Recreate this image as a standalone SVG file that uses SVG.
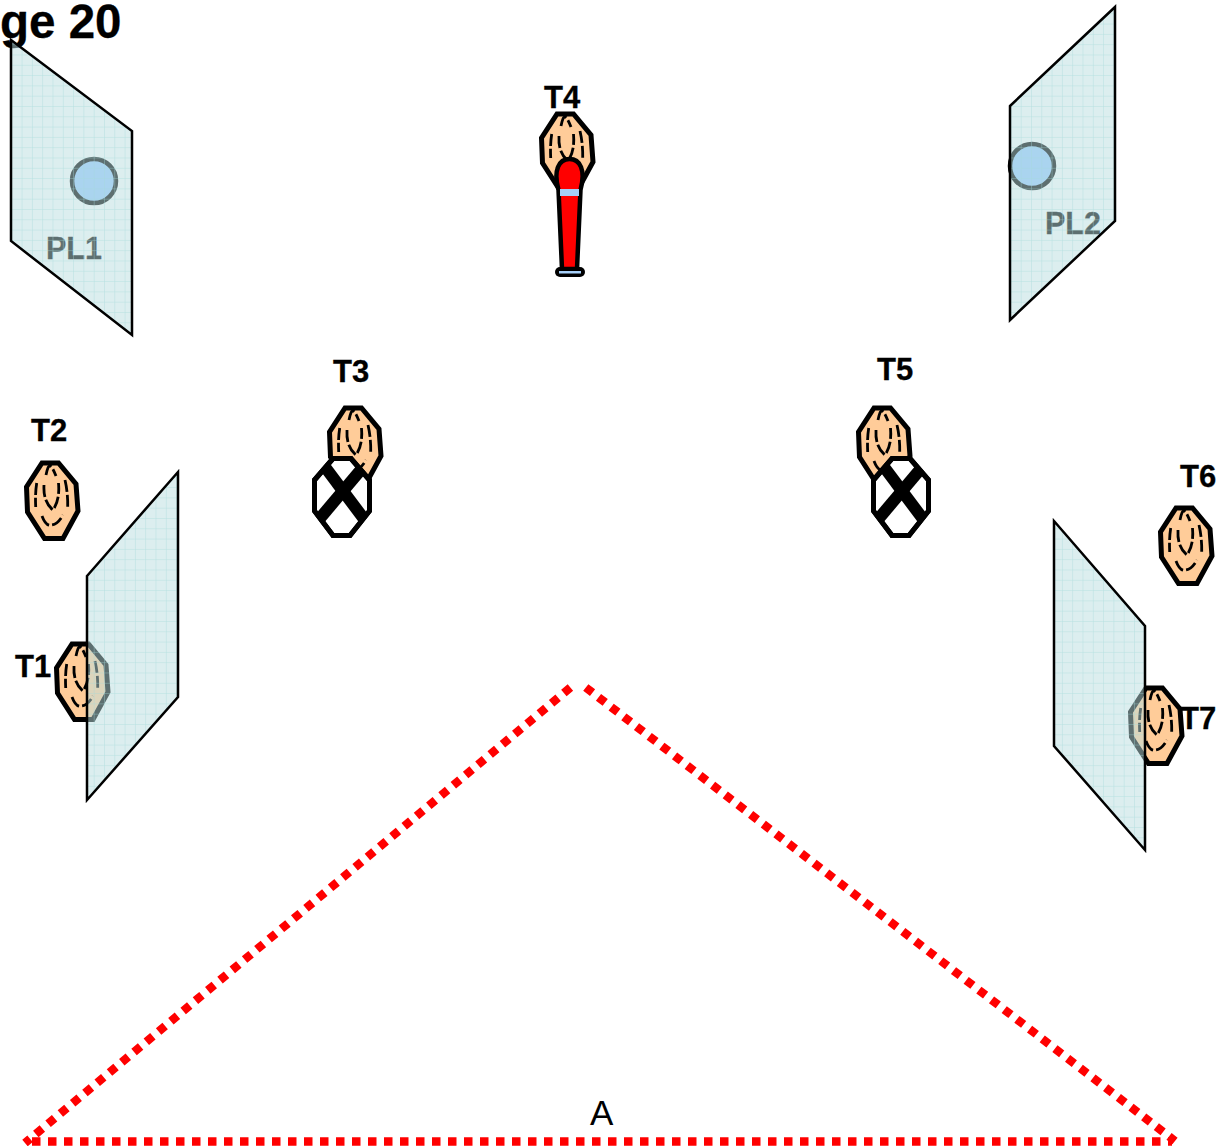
<svg xmlns="http://www.w3.org/2000/svg" width="1228" height="1146" viewBox="0 0 1228 1146">
  <style>
    text { font-family: "Liberation Sans", Arial, sans-serif; }
    .lbl { font-size: 31px; font-weight: bold; fill: #000; stroke: #000; stroke-width: 0.3; }
    .pl { font-size: 30.500px; font-weight: bold; fill: #000; stroke: #000; stroke-width: 0.3; }
    .shell { fill: #ffcc99; stroke: #000; stroke-width: 5; stroke-linejoin: miter; }
    .rib { fill: none; stroke: #000; stroke-width: 2.800; stroke-dasharray: 12 3; }
    .panel { fill: url(#grid); stroke: #000; stroke-width: 2.500; }
    .disc { fill: #9acaff; stroke: #000; stroke-width: 4.500; }
    .dots { fill: none; stroke: #ff0000; stroke-width: 8.500; stroke-dasharray: 8.500 7.500; }
    .xoct { fill: #fff; stroke: #000; stroke-width: 5; }
    .xline { fill: none; stroke: #000; stroke-width: 5; }
    .xbar { stroke: #000; stroke-width: 12; }
  </style>
  <defs>
    <pattern id="grid" patternUnits="userSpaceOnUse" x="1" y="3" width="10.3" height="10.3">
      <rect width="10.3" height="10.3" fill="#b9dde0" fill-opacity="0.5"/>
      <path d="M0 0H10.3M0 0V10.3" stroke="#a6dcdc" stroke-width="1" fill="none" stroke-opacity="0.7"/>
    </pattern>
    <clipPath id="xclip"><polygon points="21,2.500 39,2.500 57.500,24 57.500,55 38,79.500 21,79.500 2.500,55 2.500,24"/></clipPath>
    <g id="head">
      <polygon class="shell" points="17,3 33.500,3 51,24 53,51 38,78.500 19.500,78.500 2.500,52 1.500,27"/>
      <path class="rib" d="M21,15 Q23,5 25,6 Q27,6 31,16"/>
      <path class="rib" d="M11.700,23 Q10,34 10.700,47"/>
      <path class="rib" d="M19,25 Q18,42 28,50 Q35,40 33.500,23"/>
      <path class="rib" d="M40,20 Q43,33 42.700,47"/>
      <path class="rib" d="M17,56 Q21,67 27,65 Q33,64 38,55"/>
    </g>
    <g id="xhead">
      <polygon class="xoct" points="21,2.500 39,2.500 57.500,24 57.500,55 38,79.500 21,79.500 2.500,55 2.500,24"/>
      <g clip-path="url(#xclip)">
        <line class="xbar" x1="-7" y1="-15.700" x2="70" y2="87"/>
        <line class="xbar" x1="65.600" y1="-6" x2="-7.600" y2="80.700"/>
      </g>
      <polygon class="xline" points="21,2.500 39,2.500 57.500,24 57.500,55 38,79.500 21,79.500 2.500,55 2.500,24"/>
    </g>
  </defs>

  <g id="title"><text x="0" y="38" font-size="47.500" font-weight="bold" stroke="#000" stroke-width="0.3">ge 20</text></g>

  <g id="T1"><use href="#head" x="55" y="641"/><text class="lbl" x="15" y="677">T1</text></g>
  <g id="T2"><use href="#head" x="25" y="460"/><text class="lbl" x="31" y="441">T2</text></g>
  <g id="T3"><use href="#head" x="328" y="405"/><use href="#xhead" x="312" y="456"/><text class="lbl" x="333" y="382">T3</text></g>
  <g id="T4">
    <use href="#head" x="540" y="111"/>
    <text class="lbl" x="544" y="108">T4</text>
    <path d="M558.500,190 C553,170 559,159 569.500,159 C580,159 586,170 580.500,190 L577,269 L562,269 Z" fill="#ff0000" stroke="#000" stroke-width="4.500"/>
    <rect x="560" y="189" width="19" height="7" fill="#a6cff8"/>
    <rect x="555" y="267" width="30" height="10" rx="5" fill="#000"/>
    <rect x="559" y="271" width="22" height="2.500" fill="#a6cff8"/>
  </g>
  <g id="T5"><use href="#head" x="857" y="405"/><use href="#xhead" x="871" y="456"/><text class="lbl" x="877" y="380">T5</text></g>
  <g id="T6"><use href="#head" x="1159" y="505"/><text class="lbl" x="1180" y="487">T6</text></g>
  <g id="T7"><text class="lbl" x="1180" y="729">T7</text><use href="#head" x="1129" y="685"/></g>

  <g id="PL1">
    <circle class="disc" cx="94" cy="181" r="22"/>
    <text class="pl" x="46" y="259">PL1</text>
    <polygon class="panel" points="11,40 132,131 132,335 11,241"/>
  </g>
  <g id="PL2">
    <circle class="disc" cx="1032" cy="166" r="22"/>
    <text class="pl" x="1045" y="234">PL2</text>
    <polygon class="panel" points="1010,106 1115,7 1115,221 1010,320"/>
  </g>
  <g id="panel-left"><polygon class="panel" points="87,576 178,472 178,697 87,800"/></g>
  <g id="panel-right"><polygon class="panel" points="1054,521 1145,626 1145,850 1054,746"/></g>

  <g id="connectors">
    <line class="dots" x1="570.400" y1="687.500" x2="25" y2="1143"/>
    <line class="dots" x1="585.800" y1="687.500" x2="1175" y2="1141"/>
    <line class="dots" x1="32" y1="1141.500" x2="1172" y2="1141.500"/>
  </g>
  <g id="area-label"><text x="590" y="1125" font-size="35" fill="#000">A</text></g>
</svg>
